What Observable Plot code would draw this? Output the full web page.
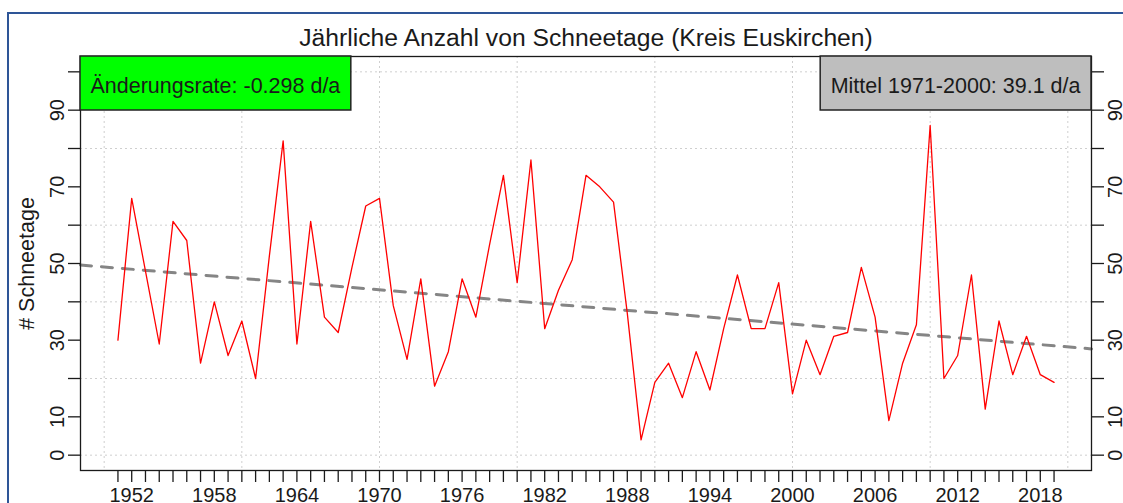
<!DOCTYPE html>
<html><head><meta charset="utf-8">
<script src="https://cdn.jsdelivr.net/npm/d3@7"></script>
<script src="https://cdn.jsdelivr.net/npm/@observablehq/plot@0.6"></script>
<style>
html,body{margin:0;padding:0;background:#fff;overflow:hidden;}
#wrap{position:relative;width:1123px;height:503px;overflow:hidden;}
#border{position:absolute;left:7px;top:12px;width:1300px;height:700px;border:2px solid #2E5597;box-sizing:border-box;}
#chart{position:absolute;left:0;top:0;}
</style></head><body>
<div id="wrap"><div id="border"></div><div id="chart"></div></div>
<script>
// ---- data ----
const startYear = 1951;
const snowDays = [
  30, 67, 48, 29, 61, 56, 24, 40, 26, 35,   // 1951-1960
  20, 52, 82, 29, 61, 36, 32, 49, 65, 67,   // 1961-1970
  39, 25, 46, 18, 27, 46, 36, 55, 73, 45,   // 1971-1980
  77, 33, 43, 51, 73, 70, 66, 37, 4, 19,    // 1981-1990
  24, 15, 27, 17, 33, 47, 33, 33, 45, 16,   // 1991-2000
  30, 21, 31, 32, 49, 36, 9, 24, 34, 86,    // 2001-2010
  20, 26, 47, 12, 35, 21, 31, 21, 19        // 2011-2019
];
const years = snowDays.map((_, i) => startYear + i);
const trendSlope = -0.298;      // d/a
const trendAtStart = 48.8;      // trend value in startYear
const meanValue = 39.1;

const xTickLabels = [1952, 1958, 1964, 1970, 1976, 1982, 1988, 1994, 2000, 2006, 2012, 2018];
const xGridValues = [1950, 1960, 1970, 1980, 1990, 2000, 2010, 2020];
const yTickValues = [0, 10, 20, 30, 40, 50, 60, 70, 80, 90, 100];
const yTickLabels = [0, 10, 30, 50, 70, 90];
const yGridValues = [0, 20, 40, 60, 80, 100];

const titleText = "Jährliche Anzahl von Schneetage (Kreis Euskirchen)";
const yAxisTitle = "# Schneetage";
const rateText = "Änderungsrate: " + trendSlope.toFixed(3) + " d/a";
const meanText = "Mittel 1971-2000: " + meanValue.toFixed(1) + " d/a";

// ---- derived tables ----
const series = years.map((y, i) => ({year: y, days: snowDays[i]}));
const span = years[years.length - 1] - years[0];
const xDomain = [years[0] - 0.04 * span, years[years.length - 1] + 0.04 * span];
const yDomain = [-4, 104];
const trend = xDomain.map(x => ({year: x, value: trendAtStart + trendSlope * (x - startYear)}));

const FONT = "'Liberation Sans', Arial, Helvetica, sans-serif";
const ink = "#1a1a1a";
const M = {left: 80, right: 32, top: 56, bottom: 33};

const chart = Plot.plot({
  width: 1123, height: 503,
  marginLeft: M.left, marginRight: M.right, marginTop: M.top, marginBottom: M.bottom,
  x: {domain: xDomain, label: null},
  y: {domain: yDomain, label: null},
  style: {fontFamily: FONT, background: "transparent", color: ink},
  marks: [
    Plot.gridX(xGridValues, {stroke: "#cfcfcf", strokeOpacity: 1, strokeWidth: 1, strokeDasharray: "2,3"}),
    Plot.gridY(yGridValues, {stroke: "#cfcfcf", strokeOpacity: 1, strokeWidth: 1, strokeDasharray: "2,3"}),
    Plot.line(trend, {x: "year", y: "value", stroke: "#858585", strokeWidth: 3, strokeDasharray: "11,10"}),
    Plot.line(series, {x: "year", y: "days", stroke: "#ff0000", strokeWidth: 1.3}),
    Plot.frame({stroke: ink, strokeWidth: 1.3}),
    Plot.axisX(years, {tickSize: 12, tickFormat: () => "", stroke: ink, strokeWidth: 1.3}),
    Plot.axisY(yTickValues, {anchor: "left", tickSize: 12, tickFormat: () => "", stroke: ink, strokeWidth: 1.3}),
    Plot.axisY(yTickValues, {anchor: "right", tickSize: 12, tickFormat: () => "", stroke: ink, strokeWidth: 1.3}),
    Plot.text(xTickLabels, {x: d => d, text: d => String(d), frameAnchor: "bottom", lineAnchor: "top", textAnchor: "middle", dy: 17, fontSize: 20, fill: ink}),
    Plot.text(yTickLabels, {y: d => d, text: d => String(d), frameAnchor: "left", dx: -17, rotate: -90, lineAnchor: "bottom", textAnchor: "middle", fontSize: 20, fill: ink}),
    Plot.text(yTickLabels, {y: d => d, text: d => String(d), frameAnchor: "right", dx: 16, rotate: -90, lineAnchor: "top", textAnchor: "middle", fontSize: 20, fill: ink}),
    Plot.text([yAxisTitle], {frameAnchor: "left", dx: -62, rotate: -90, lineAnchor: "top", textAnchor: "middle", fontSize: 21.5, fill: ink}),
    Plot.text([titleText], {frameAnchor: "top", dy: -11, lineAnchor: "bottom", textAnchor: "middle", fontSize: 24.7, fill: ink})
  ]
});
document.getElementById("chart").appendChild(chart);

// ---- legend boxes (R style legends at top-left and top-right) ----
const svg = d3.select(chart);
const boxH = 54, pad = 10.5, legendFont = 21.5;
function legendBox(label, fill, side) {
  const g = svg.append("g");
  const rect = g.append("rect").attr("y", M.top).attr("height", boxH)
    .attr("fill", fill).attr("stroke", "#222").attr("stroke-width", 1.5);
  const t = g.append("text").text(label).attr("font-family", FONT)
    .attr("text-anchor", "start")
    .attr("font-size", legendFont).attr("fill", ink).attr("y", M.top + boxH / 2 + 10);
  const w = t.node().getComputedTextLength() + 2 * pad;
  const x0 = side === "left" ? M.left : 1123 - M.right - w;
  rect.attr("x", x0).attr("width", w);
  t.attr("x", x0 + pad);
}
legendBox(rateText, "#00ff00", "left");
legendBox(meanText, "#bebebe", "right");
</script>
</body></html>
